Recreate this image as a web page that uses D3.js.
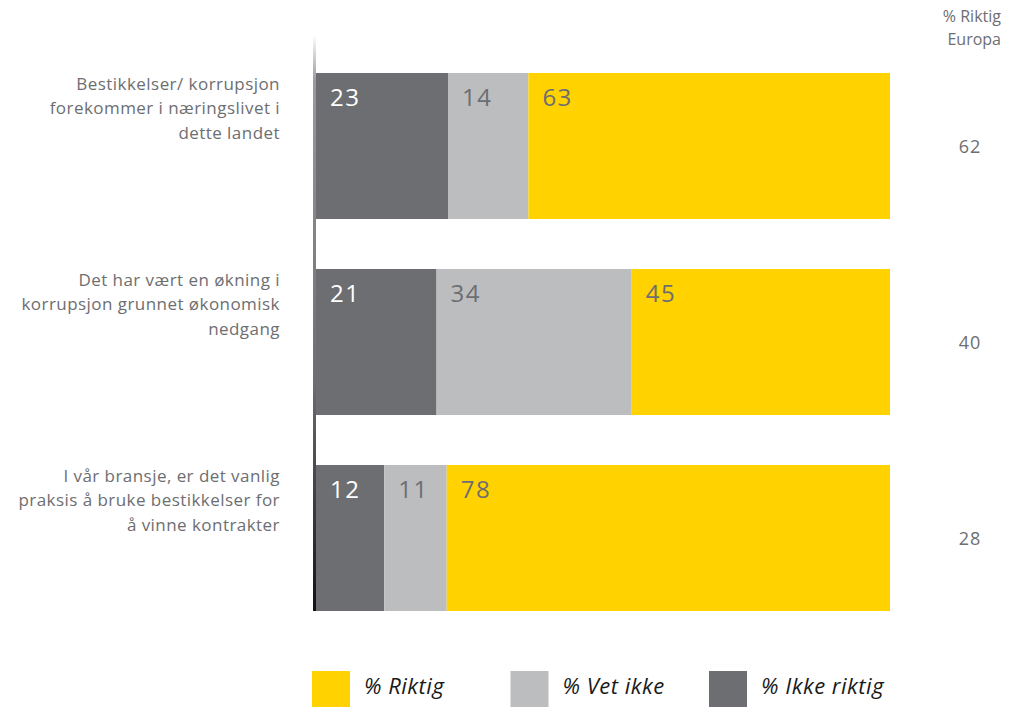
<!DOCTYPE html>
<html><head><meta charset="utf-8">
<script src="https://cdn.jsdelivr.net/npm/d3@7"></script>
<style>body{margin:0;background:#fff;}svg{display:block;font-family:"Open Sans",sans-serif;}</style>
</head><body><svg id="c" width="1016" height="707"></svg>
<script>
const questions = [
  ["Bestikkelser/ korrupsjon", "forekommer i næringslivet i", "dette landet"],
  ["Det har vært en økning i", "korrupsjon grunnet økonomisk", "nedgang"],
  ["I vår bransje, er det vanlig", "praksis å bruke bestikkelser for", "å vinne kontrakter"]
];
const seriesNames = ["% Ikke riktig", "% Vet ikke", "% Riktig"];
const ikkeRiktig = [23, 21, 12];
const vetIkke = [14, 34, 11];
const riktig = [63, 45, 78];
const europa = [62, 40, 28];
const europaHeader = ["% Riktig", "Europa"];
const legendOrder = ["% Riktig", "% Vet ikke", "% Ikke riktig"];

const colors = {"% Ikke riktig": "#6d6e71", "% Vet ikke": "#bcbdbf", "% Riktig": "#ffd200"};
const labelColors = {"% Ikke riktig": "#ffffff", "% Vet ikke": "#6d6e71", "% Riktig": "#6d6e71"};

const svg = d3.select("#c");
const rows = questions.map((q, i) => ({q, i, vals: [ikkeRiktig[i], vetIkke[i], riktig[i]]}));

const y = d3.scaleBand().domain(d3.range(questions.length)).range([48, 636]).paddingInner(0.255).paddingOuter(0.1275);

// axis line with fade
const defs = svg.append("defs");
const grad = defs.append("linearGradient").attr("id", "axg").attr("x1", 0).attr("y1", 0).attr("x2", 0).attr("y2", 1);
grad.append("stop").attr("offset", "0%").attr("stop-color", "#ffffff");
grad.append("stop").attr("offset", "8%").attr("stop-color", "#9a9a9a");
grad.append("stop").attr("offset", "60%").attr("stop-color", "#6d6e71");
grad.append("stop").attr("offset", "100%").attr("stop-color", "#111111");
svg.append("rect").attr("x", 313).attr("y", 35).attr("width", 3).attr("height", y(2) + y.bandwidth() - 35).attr("fill", "url(#axg)");

rows.forEach(r => {
  const total = d3.sum(r.vals);
  const x = d3.scaleLinear().domain([0, total]).range([316, 890]);
  let cum = 0;
  const segs = r.vals.map((v, k) => { const s = {name: seriesNames[k], v, x0: cum, x1: cum + v}; cum += v; return s; });
  const g = svg.append("g");
  g.selectAll("rect").data(segs).join("rect")
    .attr("x", d => x(d.x0)).attr("y", y(r.i)).attr("width", d => x(d.x1) - x(d.x0)).attr("height", y.bandwidth())
    .attr("fill", d => colors[d.name]);
  g.selectAll("text").data(segs).join("text")
    .attr("x", d => x(d.x0) + 14).attr("y", y(r.i) + 33)
    .attr("fill", d => labelColors[d.name]).attr("font-size", 24).attr("letter-spacing", 1.5)
    .text(d => d.v);
  // question label
  const t = svg.append("text").attr("text-anchor", "end").attr("fill", "#6d6e71").attr("font-size", 17).attr("letter-spacing", 0.45);
  r.q.forEach((line, j) => t.append("tspan").attr("x", 280).attr("y", y(r.i) + 17 + j * 24.5).text(line));
  // europa
  svg.append("text").attr("x", 970).attr("y", y(r.i) + y.bandwidth() / 2 + 7).attr("text-anchor", "middle")
    .attr("fill", "#6d6e71").attr("font-size", 18).attr("letter-spacing", 1).text(europa[r.i]);
});

const hdr = svg.append("text").attr("text-anchor", "end").attr("fill", "#6d6e71").attr("font-size", 16);
europaHeader.forEach((l, j) => hdr.append("tspan").attr("x", 1001).attr("y", 22 + j * 23).text(l));

// legend
const lx = d3.scalePoint().domain(legendOrder).range([312, 709]);
const lg = svg.selectAll("g.leg").data(legendOrder).join("g").attr("class", "leg");
lg.append("rect").attr("x", d => lx(d)).attr("y", 671).attr("width", 38).attr("height", 38).attr("fill", d => colors[d]);
lg.append("text").attr("x", d => lx(d) + 52).attr("y", 694).attr("font-size", 22).attr("font-style", "italic")
  .attr("fill", "#1a1a1a").attr("letter-spacing", 0.5).text(d => d);
</script></body></html>
